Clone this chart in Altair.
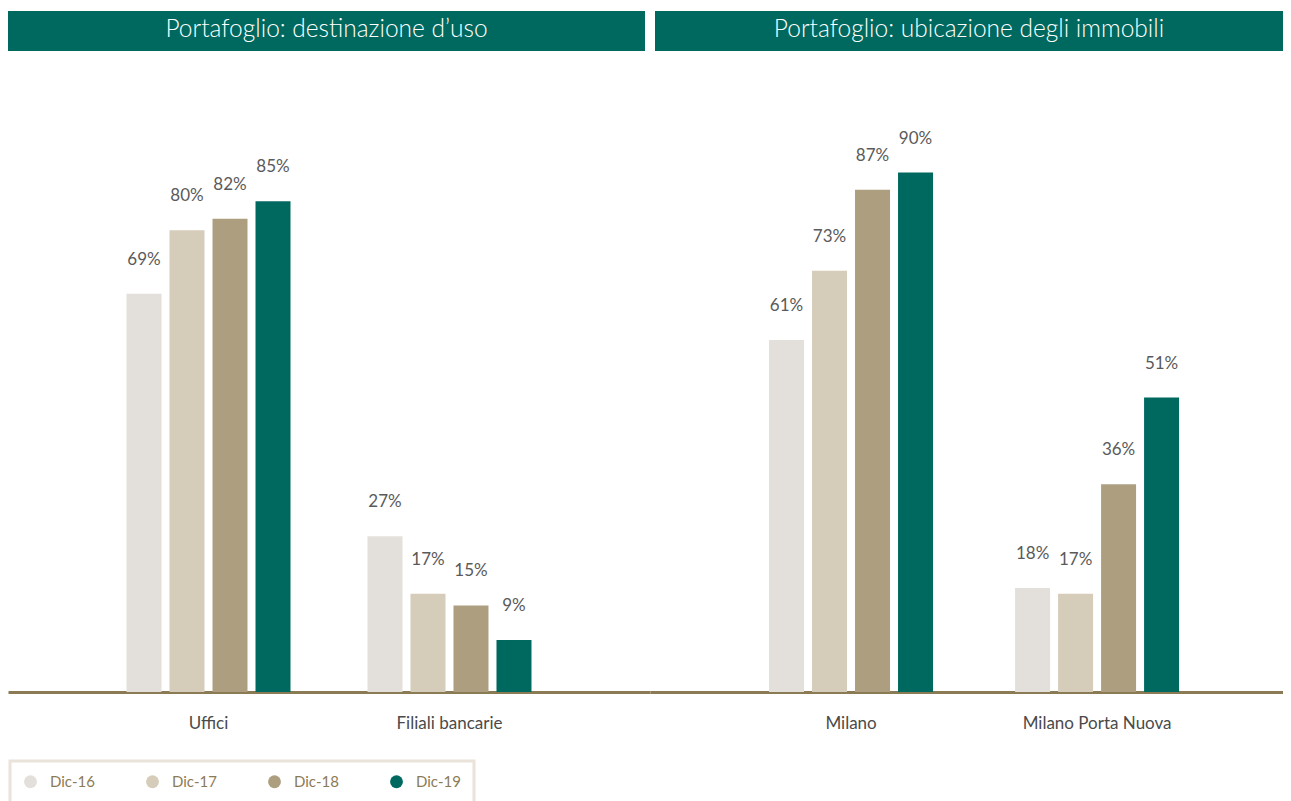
import altair as alt
import pandas as pd

years = ["Dic-16", "Dic-17", "Dic-18", "Dic-19"]
colors = ["#E3E0DB", "#D6CCBA", "#AD9E80", "#00695F"]

left_title = "Portafoglio: destinazione d\u2019uso"
left_cats = ["Uffici", "Filiali bancarie"]
left_dic16 = [69, 27]
left_dic17 = [80, 17]
left_dic18 = [82, 15]
left_dic19 = [85, 9]

right_title = "Portafoglio: ubicazione degli immobili"
right_cats = ["Milano", "Milano Porta Nuova"]
right_dic16 = [61, 18]
right_dic17 = [73, 17]
right_dic18 = [87, 36]
right_dic19 = [90, 51]

FONT = "Lato"
H = 684
YMAX = 118.5


def make_df(cats, series):
    rows = []
    for y, vals in zip(years, series):
        for c, v in zip(cats, vals):
            rows.append({"cat": c, "year": y, "value": v, "label": f"{v}%"})
    return pd.DataFrame(rows)


def panel(title, cats, series, width, pad_inner, pad_outer, align, bar_x0, bar_x1):
    df = make_df(cats, series)
    base = alt.Chart(df).encode(
        x=alt.X(
            "cat:N",
            sort=cats,
            scale=alt.Scale(paddingInner=pad_inner, paddingOuter=pad_outer, align=align),
            axis=alt.Axis(
                title=None,
                labelAngle=0,
                ticks=False,
                tickSize=0,
                domainColor="#8B7B55",
                domainWidth=3,
                labelFont=FONT,
                labelFontSize=17,
                labelColor="#4A4A4A",
                labelPadding=23,
                grid=False,
            ),
        ),
        xOffset=alt.XOffset("year:N", sort=years, scale=alt.Scale(paddingInner=0.186, paddingOuter=0)),
        y=alt.Y("value:Q", scale=alt.Scale(domain=[0, YMAX]), axis=None),
    )
    bars = base.mark_bar().encode(
        color=alt.Color(
            "year:N",
            sort=years,
            scale=alt.Scale(domain=years, range=colors),
            legend=alt.Legend(
                title=None,
                orient="none",
                legendX=2,
                legendY=753,
                direction="horizontal",
                symbolType="circle",
                symbolSize=165,
                symbolStrokeWidth=0,
                labelFont=FONT,
                labelFontSize=15,
                labelColor="#8B7B55",
                labelOffset=12,
                columnPadding=50,
                padding=13,
                strokeColor="#EAE3DA",
                fillColor="#FFFFFF",
            ),
        )
    )
    labels = base.mark_text(
        baseline="alphabetic", dy=-29, font=FONT, fontSize=17, color="#5A5A5A"
    ).encode(text="label:N")

    tdf = pd.DataFrame({"t": [title]})
    bar_bg = alt.Chart(tdf).mark_rect(color="#00695F").encode(
        x=alt.value(bar_x0), x2=alt.value(bar_x1), y=alt.value(3), y2=alt.value(43)
    )
    bar_txt = alt.Chart(tdf).mark_text(
        font=FONT, fontSize=24.5, fontWeight=300, color="#FFFFFF", baseline="middle", align="center"
    ).encode(text="t:N", x=alt.value((bar_x0 + bar_x1) / 2), y=alt.value(22))

    return alt.layer(bar_bg, bar_txt, bars, labels).properties(width=width, height=H)


left = panel(left_title, left_cats, [left_dic16, left_dic17, left_dic18, left_dic19],
             642, 0.3195, 0.4918, 0.5, 0, 637)
right = panel(right_title, right_cats, [right_dic16, right_dic17, right_dic18, right_dic19],
              633, 0.3333, 0.453, 0.534, 5, 633)

chart = (
    alt.hconcat(left, right, spacing=0)
    .properties(padding=0)
    .configure_view(stroke=None)
    .configure_concat(spacing=0)
    .configure_legend(strokeWidth=3)
)

chart.save("out.html", embed_options={"renderer": "svg", "actions": False})
